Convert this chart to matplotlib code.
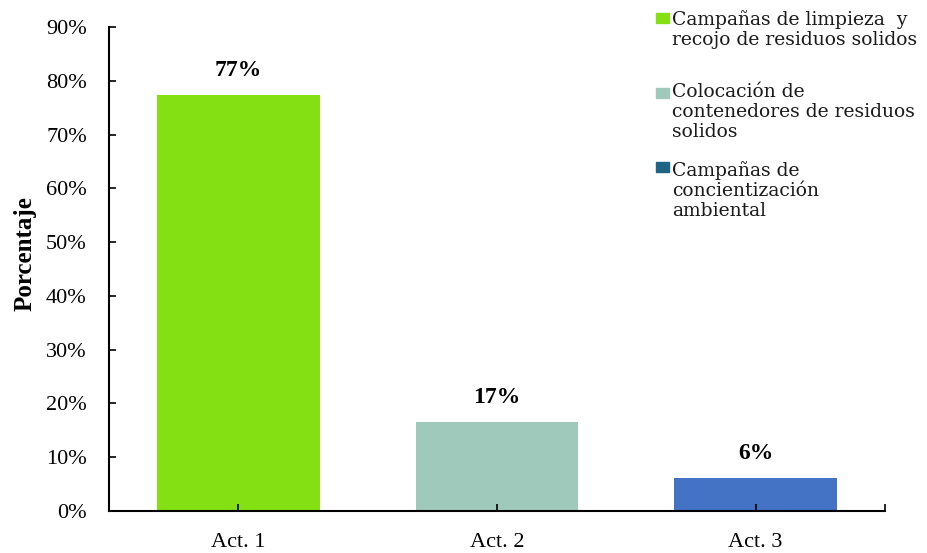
import matplotlib.pyplot as plt
from matplotlib.patches import Rectangle
from matplotlib.ticker import PercentFormatter

# datos
categorias = ["Act. 1", "Act. 2", "Act. 3"]
valores = [0.774, 0.165, 0.061]
etiquetas = ["77%", "17%", "6%"]
colores_barras = ["#84E012", "#9FC9BB", "#4472C4"]

leyenda_textos = [
    "Campañas de limpieza  y\nrecojo de residuos solidos",
    "Colocación de\ncontenedores de residuos\nsolidos",
    "Campañas de\nconcientización\nambiental",
]
leyenda_colores = ["#84E012", "#9FC9BB", "#1F6385"]

plt.rcParams['font.family'] = ['Liberation Serif', 'DejaVu Serif']

W, H = 928, 553
fig = plt.figure(figsize=(W / 100, H / 100), dpi=100)
ax = fig.add_axes([109 / W, 42 / H, 776 / W, 484 / H])

x = range(len(categorias))
ax.bar(x, valores, width=0.63, color=colores_barras)

for xi, v, lab in zip(x, valores, etiquetas):
    ax.annotate(lab, (xi, v), xytext=(0, 10), textcoords="offset points",
                ha="center", va="bottom", fontsize=17, fontweight="bold")

ax.set_xlim(-0.5, 2.5)
ax.set_ylim(0, 0.9)
ax.set_yticks([i / 10 for i in range(10)])
ax.yaxis.set_major_formatter(PercentFormatter(1.0, decimals=0))
ax.set_xticks(list(x))
ax.set_xticklabels(categorias)
ax.set_xticks([2.5], minor=True)

ax.tick_params(axis="y", direction="in", length=5, width=1.2, labelsize=16, pad=16)
ax.tick_params(axis="x", which="both", direction="in", length=5, width=1.2,
               labelsize=16, pad=16)

for s in ["top", "right"]:
    ax.spines[s].set_visible(False)
for s in ["left", "bottom"]:
    ax.spines[s].set_linewidth(1.5)

ax.set_ylabel("Porcentaje", fontsize=18, fontweight="bold")
ax.yaxis.set_label_coords(-72 / 776, (511 - 254) / 484)

# leyenda manual
sw_ys = [18, 92.5, 167]
txt_tops = [10, 83, 161]
for txt, col, ys, yt in zip(leyenda_textos, leyenda_colores, sw_ys, txt_tops):
    fig.patches.append(Rectangle((656 / W, (H - ys - 5) / H), 13 / W, 10 / H,
                                 transform=fig.transFigure, color=col))
    fig.text(672 / W, (H - yt) / H, txt, ha="left", va="top",
             fontsize=13.5, family="DejaVu Serif", linespacing=1.15,
             color="#1a1a1a")

fig.savefig("out.png", dpi=100)
